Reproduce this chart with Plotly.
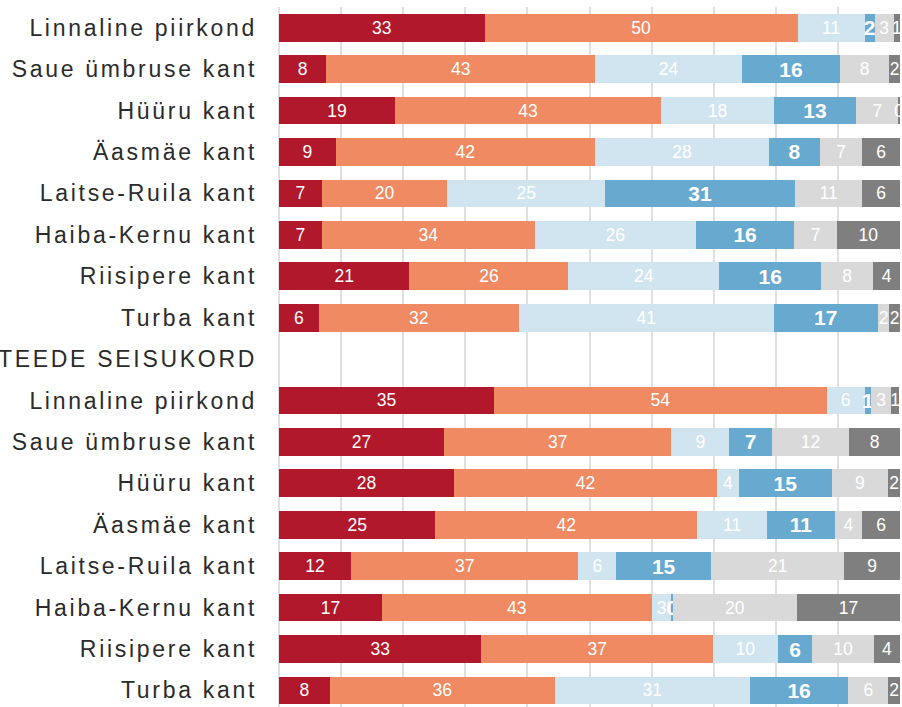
import plotly.graph_objects as go

header = "TEEDE SEISUKORD"
regions = ["Linnaline piirkond", "Saue ümbruse kant", "Hüüru kant", "Äasmäe kant",
           "Laitse-Ruila kant", "Haiba-Kernu kant", "Riisipere kant", "Turba kant"]

# 16 bar rows: first block (rows 0-7), second block after header (rows 9-16)
red = [33.1, 7.6, 18.7, 9.1, 6.9, 6.9, 21.0, 6.4,
       34.6, 26.6, 28.2, 25.2, 11.6, 16.6, 32.6, 8.2]
salmon = [50.4, 43.3, 42.8, 41.8, 20.2, 34.3, 25.6, 32.2,
          53.6, 36.6, 42.3, 42.1, 36.6, 43.4, 37.3, 36.2]
lightblue = [10.8, 23.7, 18.2, 28.0, 25.4, 25.9, 24.3, 41.1,
             6.1, 9.3, 3.6, 11.3, 6.1, 3.2, 10.4, 31.4]
midblue = [1.6, 15.7, 13.2, 8.2, 30.6, 15.9, 16.4, 16.7,
           1.1, 6.9, 14.9, 10.9, 15.3, 0.2, 5.6, 15.9]
lightgray = [3.1, 8.0, 6.9, 6.8, 10.8, 6.8, 8.4, 1.9,
             3.1, 12.4, 9.1, 4.4, 21.4, 20.0, 9.9, 6.4]
darkgray = [1.0, 1.7, 0.2, 6.1, 6.1, 10.2, 4.3, 1.7,
            1.4, 8.2, 1.9, 6.1, 9.0, 16.6, 4.2, 1.9]

row_labels = regions + [header] + regions
bar_rows = list(range(0, 8)) + list(range(9, 17))

series = [
    (red, "#b2182b", False),
    (salmon, "#ef8a62", False),
    (lightblue, "#d1e5f0", False),
    (midblue, "#67a9cf", True),
    (lightgray, "#d9d9d9", False),
    (darkgray, "#7f7f7f", False),
]

fig = go.Figure()
for vals, color, bold in series:
    fig.add_trace(go.Bar(
        x=vals, y=bar_rows, orientation="h",
        marker=dict(color=color, line=dict(width=0)),
        texttemplate="%{x:.0f}",
        textposition="inside", insidetextanchor="middle",
        constraintext="none", textangle=0,
        textfont=dict(family="Liberation Sans, Arial, sans-serif",
                      size=21 if bold else 17.5, color="white",
                      weight="bold" if bold else "normal"),
        hoverinfo="skip", showlegend=False,
    ))

fig.update_layout(
    barmode="stack", bargap=0.33,
    width=902, height=707,
    margin=dict(l=279, r=2, t=7, b=0, autoexpand=False),
    paper_bgcolor="white", plot_bgcolor="white",
    font=dict(family="Liberation Sans, Arial, sans-serif"),
    xaxis=dict(range=[0, 100], dtick=10, showgrid=True, gridcolor="#e0e0e0", gridwidth=1.5,
               zeroline=True, zerolinecolor="#e0e0e0", zerolinewidth=1.5,
               showticklabels=False, fixedrange=True, automargin=False),
    yaxis=dict(range=[16.4, -0.5], tickmode="array", tickvals=list(range(17)),
               ticktext=row_labels, showgrid=False, zeroline=False,
               tickfont=dict(size=23, color="#2b2b2b", family="Liberation Sans, Arial, sans-serif"),
               ticks="", ticklabelstandoff=21, fixedrange=True, automargin=False),
)

post = ("document.body.style.margin='0';document.body.style.overflow='hidden';"
        "var gd=document.getElementById('{plot_id}');"
        "gd.querySelectorAll('.ytick text').forEach(function(t){t.style.letterSpacing='2.7px';});")
fig.write_html("out.html", post_script=post, config={"displayModeBar": False})
